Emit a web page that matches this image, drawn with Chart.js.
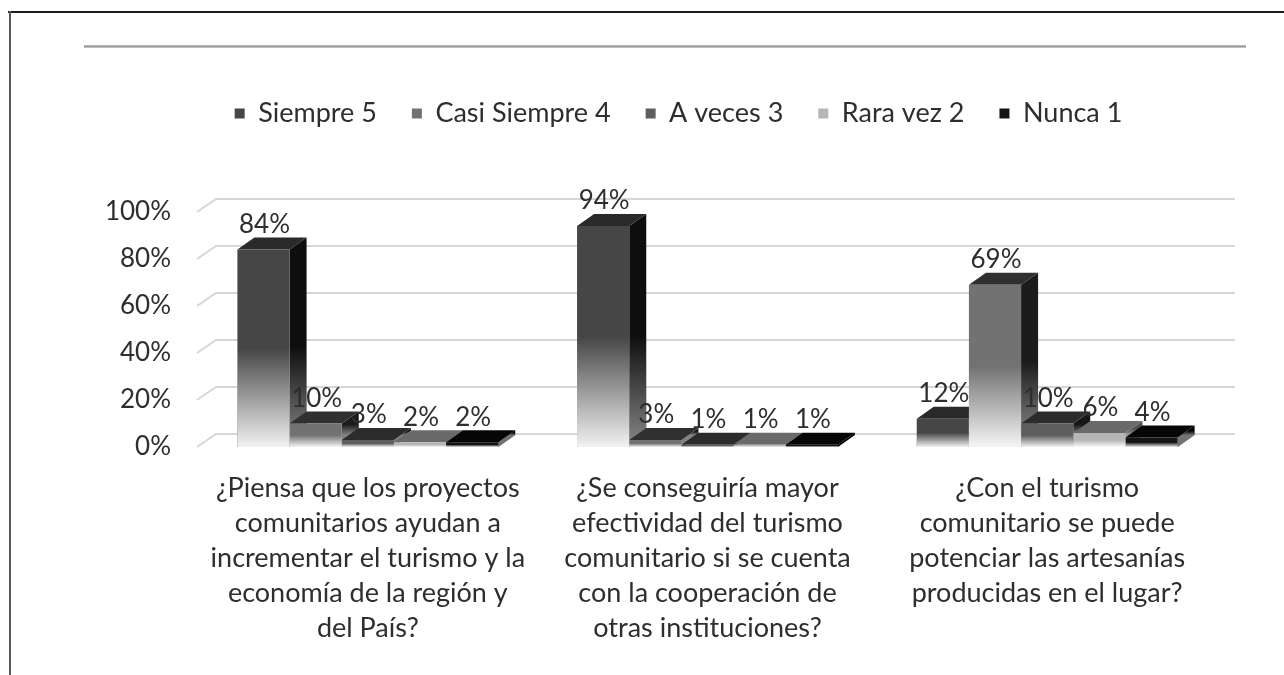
<!DOCTYPE html>
<html>
<head>
<meta charset="utf-8">
<script src="https://cdn.jsdelivr.net/npm/chart.js@4.4.1/dist/chart.umd.min.js"></script>
<style>
  html, body { margin: 0; padding: 0; background: #fff; }
  #wrap { position: relative; width: 1284px; height: 675px; overflow: hidden; background: #fff; }
  #c { position: absolute; left: 0; top: 0; }
  .frameTop { position: absolute; left: 8px; top: 11px; width: 1276px; height: 2px; background: #1c1c1c; }
  .frameLeft { position: absolute; left: 9px; top: 11px; width: 2px; height: 664px; background: #5a5a5a; }
  .rule { position: absolute; left: 84px; top: 45px; width: 1162px; height: 3px;
          background: linear-gradient(#c4c4c4, #9c9c9c 50%, #d2d2d2); }
</style>
</head>
<body>
<div id="wrap">
  <canvas id="c" width="1284" height="675"></canvas>
  <div class="frameTop"></div>
  <div class="frameLeft"></div>
  <div class="rule"></div>
</div>
<script>
// ---------------- data ----------------
const categories = [
  ['¿Piensa que los proyectos', 'comunitarios ayudan a', 'incrementar el turismo y la', 'economía de la región y', 'del País?'],
  ['¿Se conseguiría mayor', 'efectividad del turismo', 'comunitario si se cuenta', 'con la cooperación de', 'otras instituciones?'],
  ['¿Con el turismo', 'comunitario se puede', 'potenciar las artesanías', 'producidas en el lugar?']
];
const seriesNames = ['Siempre 5', 'Casi Siempre 4', 'A veces 3', 'Rara vez 2', 'Nunca 1'];
const siempre5     = [84, 94, 12];
const casiSiempre4 = [10, 3, 69];
const aVeces3      = [3, 1, 10];
const raraVez2     = [2, 1, 6];
const nunca1       = [2, 1, 4];
const yTickValues  = [0, 20, 40, 60, 80, 100];

// ---------------- styles ----------------
const frontColors = ['#464646', '#727272', '#5e5e5e', '#b6b6b6', '#141414'];
const topColors   = ['#2a2a2a', '#303030', '#2c2c2c', '#6a6a6a', '#060606'];
const sideColors  = ['#0e0e0e', '#1c1c1c', '#161616', '#4e4e4e', '#000000'];
const TEXT = '#2e2e2e';
const DX = 17, DY = -12;      // bar depth
const WX = 18, WY = -13;      // back wall depth
const LEGEND_GAP = 75;
const LEGEND_SHIFT = 70;

const seriesValues = [siempre5, casiSiempre4, aVeces3, raraVez2, nunca1];

const legendSpacer = {
  id: 'legendSpacer',
  beforeLayout(chart) {
    const lg = chart.legend;
    if (lg && !lg._spaced) {
      const orig = lg.fit;
      lg.fit = function () { orig.call(this); this.height += LEGEND_GAP; };
      lg._spaced = true;
    }
  },
  afterLayout(chart) {
    const lg = chart.legend;
    if (lg) { lg.left += LEGEND_SHIFT; lg.right += LEGEND_SHIFT; }
  }
};

function poly(ctx, pts, fill) {
  ctx.beginPath();
  ctx.moveTo(pts[0][0], pts[0][1]);
  for (let k = 1; k < pts.length; k++) ctx.lineTo(pts[k][0], pts[k][1]);
  ctx.closePath();
  ctx.fillStyle = fill;
  ctx.fill();
}

const threeD = {
  id: 'threeD',
  beforeDatasetsDraw(chart) {
    const ctx = chart.ctx;
    const ys = chart.scales.y;
    const { left, right } = chart.chartArea;
    ctx.save();
    // back wall gridlines
    ctx.strokeStyle = '#d6d6d6';
    ctx.lineWidth = 2;
    ys.ticks.forEach(t => {
      const py = ys.getPixelForValue(t.value);
      ctx.beginPath();
      ctx.moveTo(left - 1, py);
      ctx.lineTo(left + WX, py + WY);
      ctx.lineTo(right + WX, py + WY);
      ctx.stroke();
    });
    // side and top faces, left to right
    const n = chart.data.labels.length;
    for (let i = 0; i < n; i++) {
      chart.data.datasets.forEach((ds, di) => {
        const el = chart.getDatasetMeta(di).data[i];
        const p = el.getProps(['x', 'y', 'base', 'width'], true);
        const l = p.x - p.width / 2, r = p.x + p.width / 2, top = p.y, base = p.base;
        poly(ctx, [[r, top], [r + DX, top + DY], [r + DX, base + DY], [r, base]], sideColors[di]);
        const h = base - top;
        if (h > 4) {
          const g = ctx.createLinearGradient(0, top + DY, 0, base + DY);
          g.addColorStop(0, 'rgba(255,255,255,0)');
          g.addColorStop(0.55, 'rgba(255,255,255,0)');
          g.addColorStop(1, 'rgba(255,255,255,0.45)');
          poly(ctx, [[r, top], [r + DX, top + DY], [r + DX, base + DY], [r, base]], g);
        }
        poly(ctx, [[l, top], [l + DX, top + DY], [r + DX, top + DY], [r, top]], topColors[di]);
      });
    }
    ctx.restore();
  },
  afterDatasetsDraw(chart) {
    const ctx = chart.ctx;
    ctx.save();
    const n = chart.data.labels.length;
    for (let i = 0; i < n; i++) {
      chart.data.datasets.forEach((ds, di) => {
        const el = chart.getDatasetMeta(di).data[i];
        const p = el.getProps(['x', 'y', 'base', 'width'], true);
        const l = p.x - p.width / 2, top = p.y, base = p.base;
        const h = base - top;
        if (h > 1) {
          const g = ctx.createLinearGradient(0, top, 0, base);
          g.addColorStop(0, 'rgba(255,255,255,0)');
          g.addColorStop(0.5, 'rgba(255,255,255,0)');
          g.addColorStop(1, 'rgba(255,255,255,0.93)');
          ctx.fillStyle = g;
          ctx.fillRect(l, top, p.width, h);
        }
      });
    }
    // value labels
    ctx.fillStyle = TEXT;
    ctx.font = '26px Lato';
    ctx.textAlign = 'center';
    ctx.textBaseline = 'middle';
    for (let i = 0; i < n; i++) {
      chart.data.datasets.forEach((ds, di) => {
        const el = chart.getDatasetMeta(di).data[i];
        const p = el.getProps(['x', 'y'], true);
        ctx.fillText(ds.data[i] + '%', p.x + 1, p.y - 25);
      });
    }
    ctx.restore();
  }
};

new Chart(document.getElementById('c'), {
  type: 'bar',
  data: {
    labels: categories,
    datasets: seriesNames.map((name, k) => ({
      label: name,
      data: seriesValues[k],
      backgroundColor: frontColors[k],
      borderColor: frontColors[k],
      borderWidth: 0,
      categoryPercentage: 0.768,
      barPercentage: 1.0
    }))
  },
  options: {
    responsive: false,
    animation: false,
    devicePixelRatio: 1,
    layout: { padding: { left: 0, right: 67, top: 65, bottom: 0 } },
    plugins: {
      legend: {
        position: 'top',
        labels: {
          boxWidth: 10,
          boxHeight: 10,
          padding: 35,
          color: TEXT,
          font: { family: 'Lato', size: 27 }
        }
      },
      tooltip: { enabled: false }
    },
    scales: {
      x: {
        grid: { display: false, drawTicks: false },
        border: { display: false },
        ticks: {
          color: TEXT,
          padding: 24,
          maxRotation: 0,
          autoSkip: false,
          font: { family: 'Lato', size: 27, lineHeight: '35px' }
        },
        afterFit(scale) { scale.height = 228; }
      },
      y: {
        min: 0,
        max: 100,
        afterBuildTicks(scale) { scale.ticks = yTickValues.map(v => ({ value: v })); },
        grid: { display: false, drawTicks: false },
        border: { display: false },
        ticks: {
          color: TEXT,
          padding: 27,
          font: { family: 'Lato', size: 26 },
          callback: v => v + '%'
        },
        afterFit(scale) { scale.width = 198; }
      }
    }
  },
  plugins: [legendSpacer, threeD]
});
</script>
</body>
</html>
